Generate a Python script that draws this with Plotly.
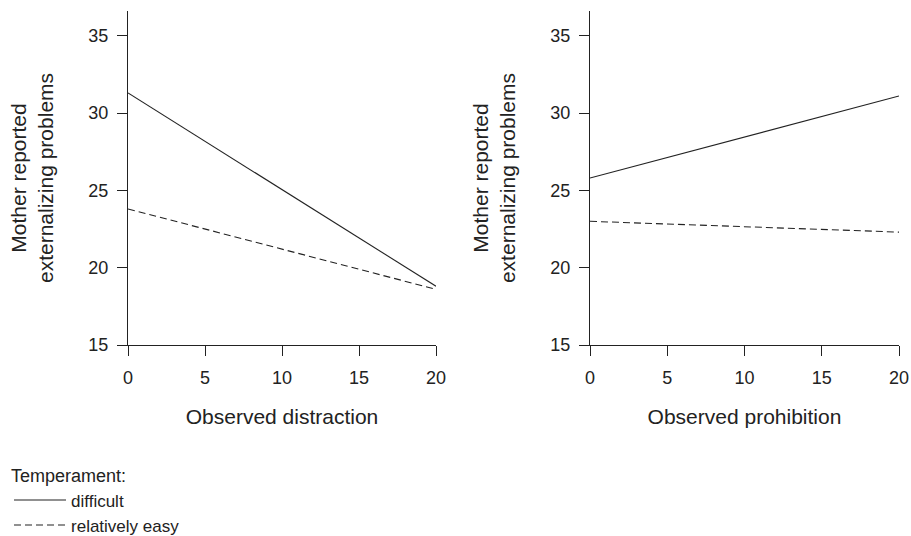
import plotly.graph_objects as go

# Data
x_vals = [0, 20]
distraction_difficult = [31.3, 18.8]
distraction_easy = [23.8, 18.6]
prohibition_difficult = [25.8, 31.1]
prohibition_easy = [23.0, 22.3]

x_ticks = [0, 5, 10, 15, 20]
y_ticks = [15, 20, 25, 30, 35]
y_title = "Mother reported<br>externalizing problems"
x_titles = ["Observed distraction", "Observed prohibition"]
legend_title = "Temperament:"
series_names = ["difficult", "relatively easy"]

INK = "#222222"
FONT = "Liberation Sans, Arial, sans-serif"
W, H = 911, 536

fig = go.Figure()

panels = [
    ("x", "y", distraction_difficult, distraction_easy, True),
    ("x2", "y2", prohibition_difficult, prohibition_easy, False),
]
for xa, ya, diff, easy, show in panels:
    fig.add_trace(go.Scatter(x=x_vals, y=diff, mode="lines", xaxis=xa, yaxis=ya,
                             name=series_names[0], showlegend=show,
                             line=dict(color=INK, width=1.1)))
    fig.add_trace(go.Scatter(x=x_vals, y=easy, mode="lines", xaxis=xa, yaxis=ya,
                             name=series_names[1], showlegend=show,
                             line=dict(color=INK, width=1.1, dash="7px,4px")))

ydom = [1 - 345 / H, 1 - 11 / H]
xdoms = [[128 / W, 436 / W], [590 / W, 899 / W]]

common_x = dict(range=[0, 20], tickvals=x_ticks, showline=True, linecolor=INK, linewidth=1.2,
                ticks="outside", ticklen=10, tickcolor=INK, tickwidth=1.2,
                ticklabelstandoff=6,
                showgrid=False, zeroline=False, tickfont=dict(size=18, color=INK),
                title_font=dict(size=21, color=INK), title_standoff=22)
common_y = dict(range=[15, 36.6], tickvals=y_ticks, showline=True, linecolor=INK, linewidth=1.2,
                ticks="outside", ticklen=10, tickcolor=INK, tickwidth=1.2,
                ticklabelstandoff=5,
                showgrid=False, zeroline=False, tickfont=dict(size=18, color=INK),
                title_font=dict(size=21, color=INK), title_standoff=28,
                title_text=y_title)

fig.update_layout(
    width=W, height=H,
    margin=dict(l=0, r=0, t=0, b=0, autoexpand=False),
    paper_bgcolor="white", plot_bgcolor="white",
    font=dict(family=FONT, color=INK),
    xaxis=dict(domain=xdoms[0], anchor="y", title_text=x_titles[0], **common_x),
    yaxis=dict(domain=ydom, anchor="x", **common_y),
    xaxis2=dict(domain=xdoms[1], anchor="y2", title_text=x_titles[1], **common_x),
    yaxis2=dict(domain=ydom, anchor="x2", **common_y),
    showlegend=True,
    legend=dict(x=0.0099, y=-0.0131, xanchor="left", yanchor="bottom",
                title=dict(text=legend_title, font=dict(size=18, color=INK), side="top"),
                font=dict(size=17, color=INK), tracegroupgap=0,
                bgcolor="rgba(0,0,0,0)", itemwidth=52),
)

fig.write_html("out.html", config={"displayModeBar": False},
               post_script="document.body.style.margin='0';")
